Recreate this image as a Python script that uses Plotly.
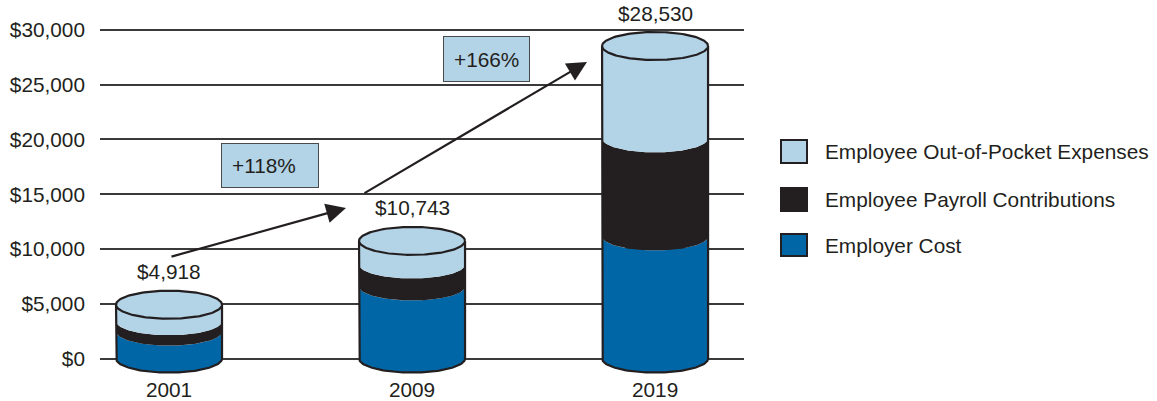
import numpy as np
import plotly.graph_objects as go

# ---- data -------------------------------------------------------------
years = ["2001", "2009", "2019"]
employer_cost = [2460, 6580, 11150]
payroll_contrib = [950, 2010, 8950]
out_of_pocket = [1508, 2153, 8430]
totals = [4918, 10743, 28530]
total_labels = ["$4,918", "$10,743", "$28,530"]
growth_labels = ["+118%", "+166%"]
series_names = ["Employee Out-of-Pocket Expenses",
                "Employee Payroll Contributions",
                "Employer Cost"]
y_ticks = [0, 5000, 10000, 15000, 20000, 25000, 30000]
y_tick_text = ["$0", "$5,000", "$10,000", "$15,000", "$20,000", "$25,000", "$30,000"]

# ---- styling / geometry -----------------------------------------------
W, H = 1157, 401
ML, MR, MT, MB = 100, 413, 8, 26
X_RANGE = [-0.284, 2.366]
Y_RANGE = [-1500, 32000]
PLOT_W = W - ML - MR
PLOT_H = H - MT - MB
X_PX = PLOT_W / (X_RANGE[1] - X_RANGE[0])   # pixels per x unit
Y_PX = PLOT_H / (Y_RANGE[1] - Y_RANGE[0])   # pixels per y unit

LIGHT = "#b3d3e7"
BLACK = "#231f20"
BLUE = "#0066a6"
INK = "#231f20"
FONT = "Liberation Sans, Arial, Helvetica, sans-serif"
FS = 20.8

HALF_W = 53 / X_PX        # cylinder half width (x units)
HALF_H = 14 / Y_PX        # ellipse half height (y units)


def xd(px):
    return X_RANGE[0] + (px - ML) / X_PX


def yd(py):
    return Y_RANGE[1] - (py - MT) / Y_PX


def px_paper(px):
    return (px - ML) / PLOT_W


def py_paper(py):
    return (H - MB - py) / PLOT_H


def lower_arc(cx, cy, n=80):
    t = np.linspace(0, np.pi, n)
    return cx - HALF_W * np.cos(t), cy - HALF_H * np.sin(t)


fig = go.Figure()

# stacked cylinder bodies: employer (bottom), payroll, out-of-pocket (top)
stack = [(employer_cost, BLUE), (payroll_contrib, BLACK), (out_of_pocket, LIGHT)]
for i in range(len(years)):
    base = 0.0
    for values, color in stack:
        top = base + values[i]
        ax1, ay1 = lower_arc(i, top)
        ax0, ay0 = lower_arc(i, base)
        xs = np.concatenate([[i - HALF_W], ax1, [i + HALF_W], ax0[::-1]])
        ys = np.concatenate([[base], ay1, [base], ay0[::-1]])
        fig.add_trace(go.Scatter(x=xs, y=ys, mode="lines", fill="toself",
                                 fillcolor=color, line=dict(width=0, color=color),
                                 hoverinfo="skip", showlegend=False))
        base = top

    # outline of sides and base
    bx, by = lower_arc(i, 0)
    xs = np.concatenate([[i - HALF_W], bx, [i + HALF_W]])
    ys = np.concatenate([[totals[i]], by, [totals[i]]])
    fig.add_trace(go.Scatter(x=xs, y=ys, mode="lines",
                             line=dict(width=2.2, color=INK),
                             hoverinfo="skip", showlegend=False))

    # top cap
    t = np.linspace(0, 2 * np.pi, 160)
    fig.add_trace(go.Scatter(x=i + HALF_W * np.cos(t), y=totals[i] + HALF_H * np.sin(t),
                             mode="lines", fill="toself", fillcolor=LIGHT,
                             line=dict(width=2.2, color=INK),
                             hoverinfo="skip", showlegend=False))

annotations = []
# total labels above each cylinder
for i, lab in enumerate(total_labels):
    annotations.append(dict(x=i, y=totals[i], text=lab, showarrow=False,
                            yshift=33, font=dict(size=FS, color=INK, family=FONT)))

# growth arrows
for (tx, ty), (hx, hy) in [((170, 257), (346, 208)), ((363, 194), (587, 62))]:
    annotations.append(dict(x=xd(hx), y=yd(hy), ax=xd(tx), ay=yd(ty),
                            xref="x", yref="y", axref="x", ayref="y",
                            text="", showarrow=True, arrowhead=2, arrowsize=1.8,
                            arrowwidth=2.2, arrowcolor=INK, standoff=0))

# growth boxes
for lab, (cx, cy, bw, bh) in zip(growth_labels, [(270, 165.5, 76, 23), (486.5, 59, 65, 24)]):
    annotations.append(dict(x=xd(cx), y=yd(cy), text=lab, showarrow=False,
                            xanchor="center", yanchor="middle", align="left",
                            width=bw, height=bh, borderpad=10,
                            bgcolor=LIGHT, bordercolor="#4a4a4a", borderwidth=1,
                            font=dict(size=FS, color=INK, family=FONT)))

# legend
shapes = []
legend_colors = [LIGHT, BLACK, BLUE]
legend_rows = [(140, 163), (188, 211), (234, 256)]
for name, color, (y0, y1) in zip(series_names, legend_colors, legend_rows):
    shapes.append(dict(type="rect", xref="paper", yref="paper",
                       x0=px_paper(781), x1=px_paper(807),
                       y0=py_paper(y1), y1=py_paper(y0),
                       fillcolor=color, line=dict(color=INK, width=2)))
    annotations.append(dict(xref="paper", yref="paper", x=px_paper(823),
                            y=py_paper((y0 + y1) / 2), text=name, showarrow=False,
                            xanchor="left", yanchor="middle",
                            font=dict(size=FS, color=INK, family=FONT)))

fig.update_layout(
    width=W, height=H,
    margin=dict(l=ML, r=MR, t=MT, b=MB),
    paper_bgcolor="white", plot_bgcolor="white",
    showlegend=False,
    font=dict(family=FONT, size=FS, color=INK),
    annotations=annotations,
    shapes=shapes,
    xaxis=dict(range=X_RANGE, tickvals=[0, 1, 2], ticktext=years,
               showgrid=False, zeroline=False, showline=False, ticks="",
               fixedrange=True, automargin=False,
               tickfont=dict(size=FS, color=INK, family=FONT)),
    yaxis=dict(range=Y_RANGE, tickvals=y_ticks, ticktext=y_tick_text,
               showgrid=True, gridcolor="#3a3a3a", gridwidth=1.6,
               zeroline=False, showline=False, ticks="", ticklabelstandoff=14,
               fixedrange=True, automargin=False,
               tickfont=dict(size=FS, color=INK, family=FONT)),
)

fig.write_html("out.html")
